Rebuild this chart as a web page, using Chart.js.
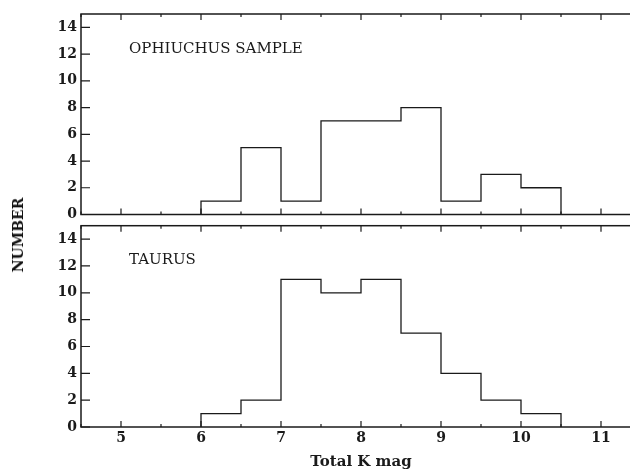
<!DOCTYPE html>
<html>
<head>
<meta charset="utf-8">
<script src="https://cdn.jsdelivr.net/npm/chart.js@4"></script>
<style>
  html, body { margin: 0; padding: 0; background: #fff; overflow: hidden; width: 630px; height: 471px; }
  #wrap { position: relative; width: 630px; height: 471px; overflow: hidden; }
  canvas { position: absolute; left: 0; }
  #topChart { top: 0; }
  #botChart { top: 220px; }
  #ylab {
    position: absolute; left: 18px; top: 235px;
    transform: translate(-50%, -50%) rotate(-90deg);
    font: bold 14px "DejaVu Serif", serif; color: #111; white-space: nowrap;
  }
</style>
</head>
<body>
<div id="wrap">
  <canvas id="topChart" width="660" height="220"></canvas>
  <canvas id="botChart" width="660" height="251"></canvas>
  <div id="ylab">NUMBER</div>
</div>
<script>
document.addEventListener("DOMContentLoaded", () => {

  // histogram data, bins 0.5 mag wide
  const binEdges = [6, 6.5, 7, 7.5, 8, 8.5, 9, 9.5, 10, 10.5];
  const ophCounts = [1, 5, 1, 7, 7, 8, 1, 3, 2];
  const tauCounts = [1, 2, 11, 10, 11, 7, 4, 2, 1];
  const xTicks = [5, 6, 7, 8, 9, 10, 11];
  const xMinor = [4.5, 5.5, 6.5, 7.5, 8.5, 9.5, 10.5, 11.5];
  const yTicks = [0, 2, 4, 6, 8, 10, 12, 14];
  const panelNames = ["OPHIUCHUS SAMPLE", "TAURUS"];

  const ink = "#1a1a1a";
  const tickFont = { family: "DejaVu Serif", size: 14, weight: "bold" };

  function stepPoints(counts) {
    const pts = [{ x: binEdges[0], y: 0 }];
    counts.forEach((c, i) => pts.push({ x: binEdges[i], y: c }));
    pts.push({ x: binEdges[binEdges.length - 1], y: 0 });
    return pts;
  }

  // frame with inward ticks + panel name
  const framePlugin = {
    id: "frame",
    afterDraw(chart, args, opts) {
      const { ctx, chartArea: a, scales } = chart;
      const xs = scales.x, ys = scales.y;
      ctx.save();
      ctx.strokeStyle = ink;
      ctx.lineWidth = 1.5;
      ctx.strokeRect(a.left, a.top, a.right - a.left, a.bottom - a.top);
      ctx.lineWidth = 1.2;
      ctx.beginPath();
      xTicks.forEach(v => {
        const px = xs.getPixelForValue(v);
        ctx.moveTo(px, a.bottom); ctx.lineTo(px, a.bottom - 6);
        ctx.moveTo(px, a.top); ctx.lineTo(px, a.top + 6);
      });
      xMinor.forEach(v => {
        const px = xs.getPixelForValue(v);
        ctx.moveTo(px, a.bottom); ctx.lineTo(px, a.bottom - 3);
        ctx.moveTo(px, a.top); ctx.lineTo(px, a.top + 3);
      });
      yTicks.forEach(v => {
        const py = ys.getPixelForValue(v);
        ctx.moveTo(a.left, py); ctx.lineTo(a.left + 9, py);
        ctx.moveTo(a.right, py); ctx.lineTo(a.right - 9, py);
      });
      ctx.stroke();

      ctx.fillStyle = ink;
      ctx.font = '15px "DejaVu Serif"';
      ctx.textBaseline = "middle";
      ctx.fillText(opts.name, xs.getPixelForValue(opts.tx), ys.getPixelForValue(opts.ty));
      ctx.restore();
    }
  };

  function noPad(s) {
    s.paddingTop = 0; s.paddingBottom = 0; s.paddingLeft = 0; s.paddingRight = 0;
  }

  function makeChart(id, counts, name, showX, padding) {
    return new Chart(document.getElementById(id), {
      type: "line",
      data: {
        datasets: [{
          data: stepPoints(counts),
          stepped: true,
          borderColor: ink,
          borderWidth: 1.3,
          pointRadius: 0,
          fill: false
        }]
      },
      options: {
        responsive: false,
        animation: false,
        layout: { padding: padding },
        plugins: {
          legend: { display: false },
          tooltip: { enabled: false },
          frame: { name: name, tx: 5.1, ty: 12.4 }
        },
        scales: {
          x: {
            type: "linear",
            display: showX,
            min: 4.5,
            max: 11.5,
            grid: { display: false, drawTicks: false },
            border: { display: false },
            afterBuildTicks: s => { s.ticks = xTicks.map(v => ({ value: v })); },
            ticks: { color: ink, font: tickFont, padding: 3 },
            title: {
              display: true,
              text: "Total K mag",
              color: ink,
              font: { family: "DejaVu Serif", size: 15, weight: "bold" },
              padding: { top: 0, bottom: 0 }
            },
            afterFit: s => { s.height = showX ? 44 : 0; noPad(s); }
          },
          y: {
            min: 0,
            max: 15,
            grid: { display: false, drawTicks: false },
            border: { display: false },
            afterBuildTicks: s => { s.ticks = yTicks.map(v => ({ value: v })); },
            ticks: { color: ink, font: tickFont, padding: 4 },
            afterFit: s => { s.width = 81; noPad(s); }
          }
        }
      },
      plugins: [framePlugin]
    });
  }

  makeChart("topChart", ophCounts, panelNames[0], false, { top: 14, right: 19, bottom: 5.5, left: 0 });
  makeChart("botChart", tauCounts, panelNames[1], true, { top: 5.7, right: 19, bottom: 0, left: 0 });

});
</script>
</body>
</html>
